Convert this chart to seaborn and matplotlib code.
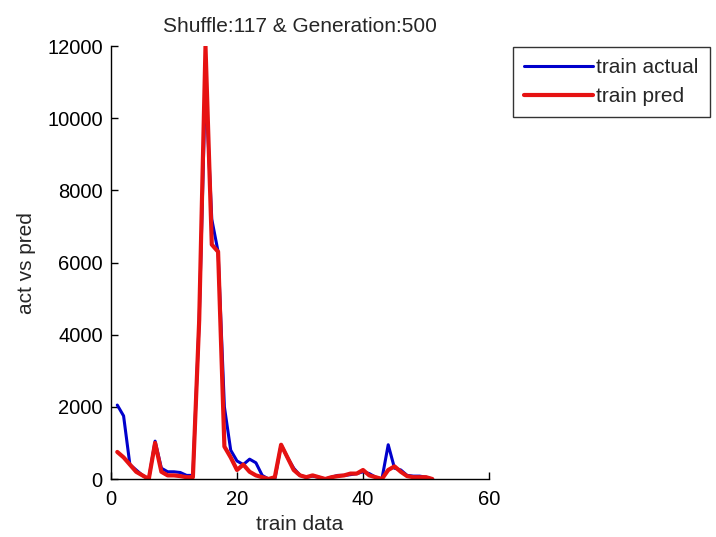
import numpy as np
import pandas as pd
import matplotlib
matplotlib.use("Agg")
import matplotlib.pyplot as plt
import seaborn as sns

sample_idx = list(range(1, 52))
train_actual = [2050, 1750, 400, 250, 100, 0, 1050, 300, 200, 200,
                180, 100, 100, 4400, 11000, 7200, 6300, 2000, 800, 500,
                400, 550, 450, 100, 0, 0, 950, 600, 300, 100,
                50, 80, 50, 0, 50, 100, 100, 120, 150, 200,
                150, 50, 0, 950, 300, 250, 100, 80, 80, 50, 0]
train_pred = [750, 600, 400, 200, 100, 0, 1000, 200, 100, 100,
              80, 50, 50, 4400, 12000, 6500, 6300, 900, 600, 250,
              400, 200, 100, 50, 0, 50, 950, 600, 250, 100,
              50, 100, 50, 0, 50, 80, 100, 150, 150, 250,
              100, 50, 0, 250, 350, 200, 80, 50, 50, 50, 0]

title = "Shuffle:117 & Generation:500"
xlabel = "train data"
ylabel = "act vs pred"
xticks = [0, 20, 40, 60]
yticks = [0, 2000, 4000, 6000, 8000, 10000, 12000]

df = pd.DataFrame({"idx": sample_idx * 2,
                   "value": train_actual + train_pred,
                   "series": ["train actual"] * len(sample_idx) + ["train pred"] * len(sample_idx)})

sns.set_style("ticks")
plt.rcParams['font.family'] = ['Liberation Sans', 'DejaVu Sans']

fig = plt.figure(figsize=(7.16, 5.37), dpi=100)
ax = fig.add_axes([0.155, 0.108, 0.528, 0.806])

sns.lineplot(data=df[df.series == "train actual"], x="idx", y="value", color=(0, 0, 0.8),
             linewidth=2.2, ax=ax, label="train actual")
sns.lineplot(data=df[df.series == "train pred"], x="idx", y="value", color=(0.9, 0.07, 0.07),
             linewidth=3.0, ax=ax, label="train pred")

ax.set_xlim(0, 60)
ax.set_ylim(0, 12000)
ax.set_xticks(xticks)
ax.set_yticks(yticks)
ax.tick_params(direction="in", length=5, labelsize=14.5, colors="black", width=1)
ax.tick_params(axis="x", pad=8)
ax.tick_params(axis="y", pad=6)
for s in ["top", "right"]:
    ax.spines[s].set_visible(False)
for s in ["left", "bottom"]:
    ax.spines[s].set_color("black")
    ax.spines[s].set_linewidth(1)
ax.set_xlabel(xlabel, fontsize=15, labelpad=4)
ax.set_ylabel(ylabel, fontsize=15, labelpad=8)
ax.set_title(title, fontsize=15, pad=10)

h, l = ax.get_legend_handles_labels()
ax.get_legend().remove()
leg = fig.legend(h, l, loc="upper left", bbox_to_anchor=(0.7165, 0.9125), borderaxespad=0,
                 frameon=True, fancybox=False, edgecolor="black", fontsize=15,
                 handlelength=3.3, handletextpad=0.15, borderpad=0.55, labelspacing=0.45)
leg.get_frame().set_linewidth(1)

fig.savefig("out.png", dpi=100)
